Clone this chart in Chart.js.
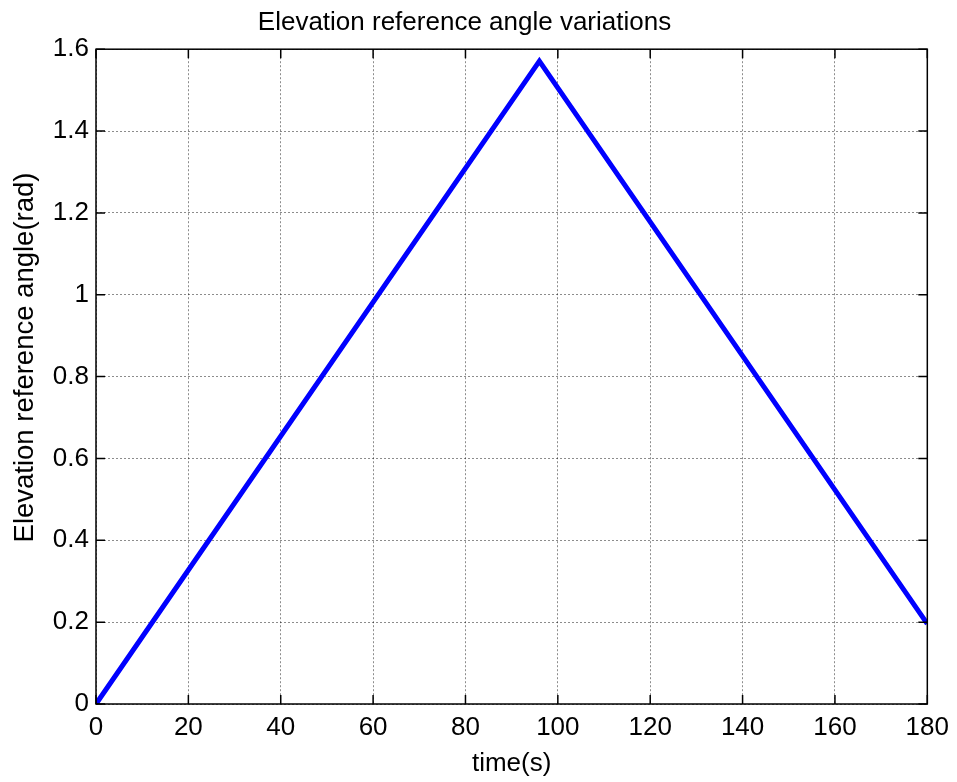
<!DOCTYPE html>
<html>
<head>
<meta charset="utf-8">
<script src="https://cdn.jsdelivr.net/npm/chart.js@4/dist/chart.umd.min.js"></script>
<style>
  html, body { margin:0; padding:0; background:#fff; }
  #wrap { width:957px; height:782px; }
</style>
</head>
<body>
<div id="wrap"><canvas id="chart" width="957" height="782"></canvas></div>
<script>
// data
const timeS = [0, 96, 180];
const angleRad = [0, 1.5708, 0.196];

// axis ticks
const xTicks = [0, 20, 40, 60, 80, 100, 120, 140, 160, 180];
const yTicks = [0, 0.2, 0.4, 0.6, 0.8, 1, 1.2, 1.4, 1.6];

const font = 'Liberation Sans, Arial, sans-serif';

// MATLAB style box + inward tick marks
const boxTicks = {
  id:'boxTicks',
  afterDatasetsDraw(chart){
    const {ctx, chartArea:a, scales} = chart;
    const len = 9;
    ctx.save();
    ctx.strokeStyle = '#000';
    ctx.lineWidth = 1.5;
    ctx.beginPath();
    xTicks.forEach(v=>{
      const x = scales.x.getPixelForValue(v);
      ctx.moveTo(x, a.bottom); ctx.lineTo(x, a.bottom-len);
      ctx.moveTo(x, a.top); ctx.lineTo(x, a.top+len);
    });
    yTicks.forEach(v=>{
      const y = scales.y.getPixelForValue(v);
      ctx.moveTo(a.left, y); ctx.lineTo(a.left+len, y);
      ctx.moveTo(a.right, y); ctx.lineTo(a.right-len, y);
    });
    ctx.stroke();
    ctx.strokeRect(a.left, a.top, a.right-a.left, a.bottom-a.top);
    ctx.restore();
  }
};

const ctx = document.getElementById('chart').getContext('2d');
new Chart(ctx, {
  type:'scatter',
  data:{
    datasets:[{
      data: timeS.map((t,i)=>({x:t, y:angleRad[i]})),
      showLine:true,
      borderColor:'#0000ff',
      borderWidth:5,
      pointRadius:0,
      fill:false
    }]
  },
  options:{
    responsive:false,
    animation:false,
    layout:{ padding:{ left:0, right:28, top:0, bottom:0 } },
    scales:{
      x:{
        type:'linear', min:0, max:180,
        afterBuildTicks: s => { s.ticks = xTicks.map(v=>({value:v})); },
        afterFit: s => { s.height = 78; },
        ticks:{ color:'#000', font:{family:font, size:26}, padding:8, maxRotation:0 },
        grid:{ color:'rgba(0,0,0,0.45)', lineWidth:1, drawTicks:false },
        border:{ display:false, dash:[2,2] },
        title:{ display:true, text:'time(s)', color:'#000', font:{family:font, size:26}, padding:{top:0, bottom:3} }
      },
      y:{
        type:'linear', min:0, max:1.6,
        afterBuildTicks: s => { s.ticks = yTicks.map(v=>({value:v})); },
        afterFit: s => { s.width = 96; },
        ticks:{ color:'#000', font:{family:font, size:26}, padding:7,
          callback: v => String(+v.toFixed(1)) },
        grid:{ color:'rgba(0,0,0,0.45)', lineWidth:1, drawTicks:false },
        border:{ display:false, dash:[2,2] },
        title:{ display:true, text:'     Elevation reference angle(rad)', color:'#000', font:{family:font, size:27.5}, padding:{top:9, bottom:0} }
      }
    },
    plugins:{
      legend:{ display:false },
      tooltip:{ enabled:false },
      title:{ display:true, text:'Elevation reference angle variations', color:'#000',
        font:{family:font, size:26, weight:'normal'}, padding:{top:7, bottom:11} }
    }
  },
  plugins:[boxTicks]
});
</script>
</body>
</html>
